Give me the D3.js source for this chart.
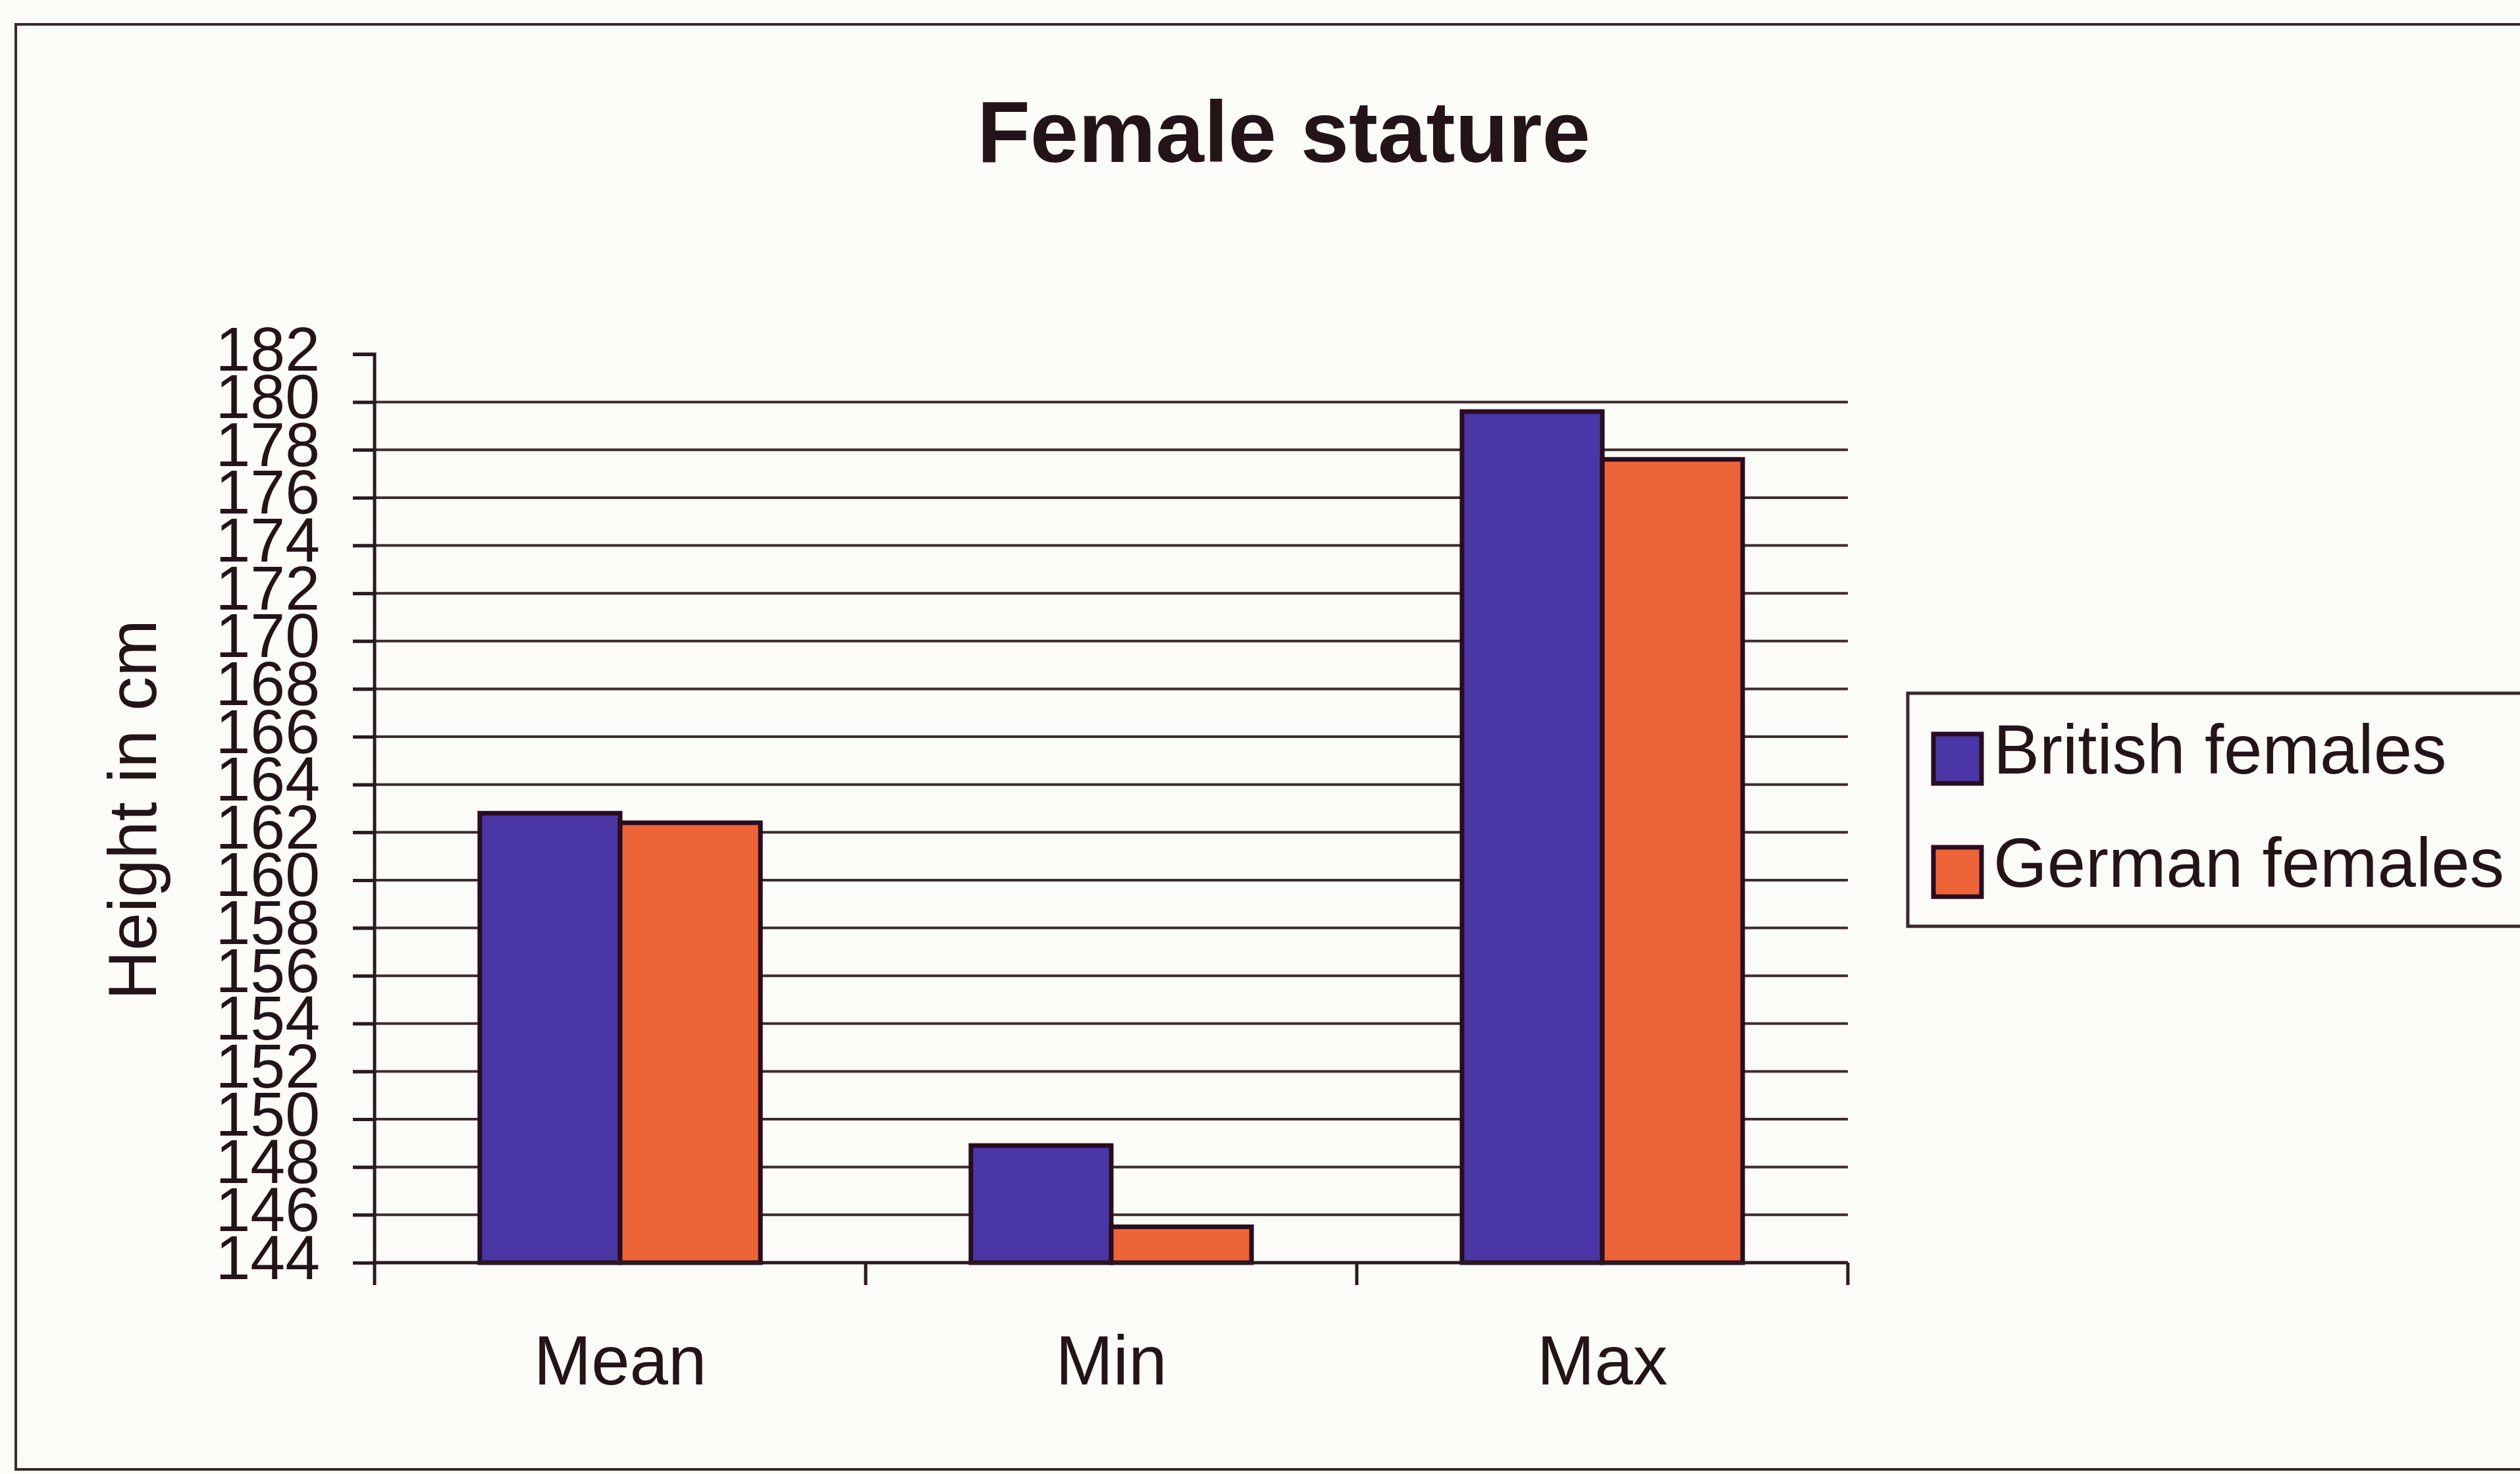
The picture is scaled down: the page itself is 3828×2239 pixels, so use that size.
<!DOCTYPE html>
<html>
<head>
<meta charset="utf-8">
<title>Female stature</title>
<script src="https://cdnjs.cloudflare.com/ajax/libs/d3/7.8.5/d3.min.js"></script>
<style>
	html, body { margin: 0; padding: 0; background: #fbfbf7; }
	svg { display: block; }
	text { font-family: "Liberation Sans", Arial, sans-serif; fill: #24141a; }
</style>
</head>
<body>
<div id="chart"></div>
<script>

var categories = ["Mean", "Min", "Max"];
var series = ["British females", "German females"];
var britishValues = [162.8, 148.9, 179.6];
var germanValues = [162.4, 145.5, 177.6];
var yTicks = [144, 146, 148, 150, 152, 154, 156, 158, 160, 162, 164, 166, 168, 170, 172, 174, 176, 178, 180, 182];

var seriesValues = [britishValues, germanValues];
var colors = ["#4a37a5", "#ee6439"];
var lineColor = "#2a1a20";

function buildData() {
	var data = [];
	for (var i = 0; i < categories.length; i++) {
		var row = {label: categories[i], values: []};
		for (var j = 0; j < series.length; j++) {
			row.values.push({key: series[j], value: seriesValues[j][i], idx: j});
		}
		data.push(row);
	}
	return data;
};

function createChart(data) {

	var svgWidth = 3828;
	var svgHeight = 2239;
	var plot = {left: 569, right: 2807, top: 538, bottom: 1918};

	var svg = d3.select('#chart').append('svg')
		.attr('width', svgWidth).attr('height', svgHeight);

	svg.append('rect')
		.attr('width', svgWidth).attr('height', svgHeight)
		.style('fill', '#fbfbf7');

	// outer chart frame (runs off the right edge like the scan)
	svg.append('rect')
		.attr('x', 24).attr('y', 37)
		.attr('width', 3900).attr('height', 2195)
		.style('fill', 'none').style('stroke', '#3a2a2c').style('stroke-width', 4);

	svg.append('text')
		.attr('x', 1950).attr('y', 246)
		.attr('text-anchor', 'middle')
		.style('font-size', '132px').style('font-weight', 'bold')
		.text('Female stature');

	var x0 = d3.scaleBand().domain(categories).range([plot.left, plot.right]).padding(0);
	var x1 = d3.scaleBand().domain(series).range([0, x0.bandwidth()])
		.paddingInner(0).paddingOuter(0.75);
	var y = d3.scaleLinear().domain([144, 182]).range([plot.bottom, plot.top]);

	// gridlines (no line at the top value)
	svg.append('g').selectAll('line')
		.data(yTicks.filter(function(d) { return d > 144 && d < 182; }))
		.enter().append('line')
		.attr('x1', plot.left - 33).attr('x2', plot.right)
		.attr('y1', function(d) { return y(d); })
		.attr('y2', function(d) { return y(d); })
		.style('stroke', '#3b2c2e').style('stroke-width', 4);

	var yAxis = svg.append('g')
		.attr('transform', 'translate(' + plot.left + ',0)')
		.call(d3.axisLeft(y).tickValues(yTicks).tickSize(33).tickPadding(50).tickFormat(d3.format('d')));
	yAxis.selectAll('path, line').style('stroke', lineColor).style('stroke-width', 5);
	yAxis.select('.domain').attr('d', 'M-33,' + y(182) + 'H0V' + y(144));
	yAxis.selectAll('text')
		.attr('dy', null).attr('y', 24)
		.style('font-size', '95px').style('font-family', '"Liberation Sans", Arial, sans-serif')
		.style('fill', '#24141a');

	var groups = svg.append('g').selectAll('g').data(data)
		.enter().append('g')
		.attr('transform', function(d) { return 'translate(' + x0(d.label) + ',0)'; });

	groups.selectAll('rect').data(function(d) { return d.values; })
		.enter().append('rect')
		.attr('x', function(d) { return x1(d.key); })
		.attr('width', x1.bandwidth())
		.attr('y', function(d) { return y(d.value); })
		.attr('height', function(d) { return y(144) - y(d.value); })
		.style('fill', function(d) { return colors[d.idx]; })
		.style('stroke', '#2a0c20').style('stroke-width', 7);

	// category axis with ticks between categories
	var xAxis = svg.append('g')
		.attr('transform', 'translate(0,' + plot.bottom + ')');
	xAxis.append('line')
		.attr('x1', plot.left).attr('x2', plot.right)
		.style('stroke', lineColor).style('stroke-width', 5);
	var bounds = categories.map(function(c) { return x0(c); }).concat([plot.right]);
	xAxis.selectAll('.tick').data(bounds)
		.enter().append('line')
		.attr('x1', function(d) { return d; }).attr('x2', function(d) { return d; })
		.attr('y1', 0).attr('y2', 34)
		.style('stroke', lineColor).style('stroke-width', 5);
	xAxis.selectAll('.label').data(categories)
		.enter().append('text')
		.attr('x', function(d) { return x0(d) + x0.bandwidth() / 2; })
		.attr('y', 185)
		.attr('text-anchor', 'middle')
		.style('font-size', '105px')
		.text(function(d) { return d; });

	svg.append('text')
		.attr('transform', 'translate(237,1230) rotate(-90)')
		.attr('text-anchor', 'middle')
		.style('font-size', '104px')
		.text('Height in cm');

	// legend
	var legend = svg.append('g');
	legend.append('rect')
		.attr('x', 2898).attr('y', 1053)
		.attr('width', 1000).attr('height', 354)
		.style('fill', '#fbfbf7').style('stroke', '#3a2a2c').style('stroke-width', 5);

	var items = legend.selectAll('.item').data(series)
		.enter().append('g')
		.attr('transform', function(d, i) { return 'translate(2937,' + (1115 + i * 172) + ')'; });
	items.append('rect')
		.attr('width', 73).attr('height', 75)
		.style('fill', function(d, i) { return colors[i]; })
		.style('stroke', '#2a0c20').style('stroke-width', 7);
	items.append('text')
		.attr('x', 91).attr('y', 60)
		.style('font-size', '105px')
		.text(function(d) { return d; });
};

createChart(buildData());

</script>
</body>
</html>
